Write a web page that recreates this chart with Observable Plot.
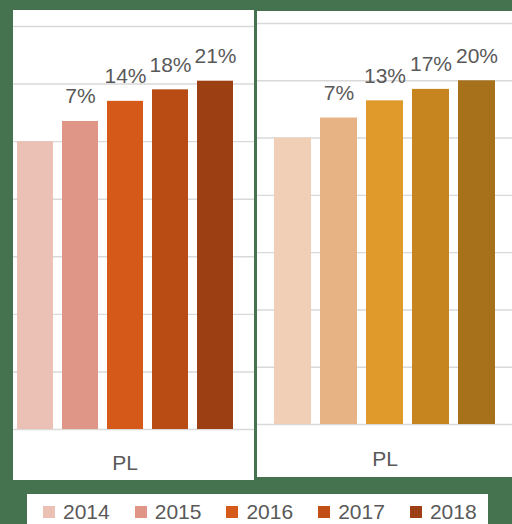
<!DOCTYPE html>
<html>
<head>
<meta charset="utf-8">
<script src="https://cdn.jsdelivr.net/npm/d3@7"></script>
<script src="https://cdn.jsdelivr.net/npm/@observablehq/plot@0.6"></script>
<style>
  html, body { margin: 0; padding: 0; }
  body { width: 512px; height: 524px; overflow: hidden; background: #45724f; position: relative;
         font-family: "Liberation Sans", Arial, sans-serif; }
  .panel { position: absolute; background: #fff; overflow: hidden; }
  .panel svg { position: absolute; top: 0; max-width: none !important; }
  #legend { position: absolute; left: 27px; top: 494px; width: 461px; height: 40px; background: #fff; }
  #legend .items { position: absolute; left: 16px; top: 12px; display: flex; gap: 25px; }
  #legend .item { display: flex; align-items: center; height: 12px; }
  #legend .sw { width: 12px; height: 12px; margin-right: 8px; }
  #legend .lbl { font-size: 21px; line-height: 12px; color: #595959; }
</style>
</head>
<body>
<div id="left" class="panel" style="left:13px; top:10px; width:241px; height:470px;"></div>
<div id="right" class="panel" style="left:257px; top:11px; width:255px; height:466px;"></div>
<div id="legend"><div class="items"></div></div>
<script>
// ---- data ----
const categories = ["PL"];
const years = ["2014", "2015", "2016", "2017", "2018"];
const leftValues = [100, 107, 114, 118, 121];
const rightValues = [100, 107, 113, 117, 120];
const leftLabels = ["", "7%", "14%", "18%", "21%"];
const rightLabels = ["", "7%", "13%", "17%", "20%"];
const leftColors = ["#ebc0b5", "#df9686", "#d55a19", "#b94c14", "#9c3f12"];
const rightColors = ["#f0cfb6", "#e8b384", "#e09a2b", "#c6851f", "#a7711c"];
const legendColors = ["#ebc0b5", "#df9686", "#d55a19", "#c24f16", "#9c3f12"];
const yTicks = [0, 20, 40, 60, 80, 100, 120, 140];

function rows(values, labels) {
  return years.map((y, i) => ({region: categories[0], year: y, value: values[i], label: labels[i]}));
}

function panel(values, labels, colors, opts) {
  const data = rows(values, labels);
  return Plot.plot({
    width: opts.width,
    height: opts.height,
    marginTop: opts.marginTop,
    marginBottom: opts.marginBottom,
    marginLeft: 0,
    marginRight: 0,
    style: {fontSize: "21px", fontFamily: "Liberation Sans, Arial, sans-serif", color: "#595959", background: "transparent", overflow: "visible", maxWidth: "none"},
    fx: {domain: categories, padding: 0, axis: "bottom", tickSize: 0, tickPadding: opts.tickPadding, label: null},
    x: {domain: years, axis: null, paddingInner: 0.2, paddingOuter: opts.paddingOuter},
    y: {domain: [0, 140], axis: null},
    color: {domain: years, range: colors},
    marks: [
      Plot.ruleY(yTicks, {stroke: "#d9d9d9", strokeWidth: 1.4}),
      Plot.barY(data, {fx: "region", x: "year", y: "value", fill: "year"}),
      Plot.text(data.filter(d => d.label), {fx: "region", x: "year", y: "value", text: "label",
        lineAnchor: "bottom", dy: -18, fill: "#595959", fontSize: 21})
    ]
  });
}

const leftSvg = panel(leftValues, leftLabels, leftColors,
  {width: 259, height: 470, marginTop: 16, marginBottom: 51, paddingOuter: 0.43, tickPadding: 26});
leftSvg.style.left = "-18px";
document.getElementById("left").appendChild(leftSvg);

const rightSvg = panel(rightValues, rightLabels, rightColors,
  {width: 255, height: 466, marginTop: 12, marginBottom: 53, paddingOuter: 0.356, tickPadding: 27});
rightSvg.style.left = "0px";
document.getElementById("right").appendChild(rightSvg);

// legend
const items = document.querySelector("#legend .items");
years.forEach((y, i) => {
  const it = document.createElement("div");
  it.className = "item";
  const sw = document.createElement("div");
  sw.className = "sw";
  sw.style.background = legendColors[i];
  const lb = document.createElement("span");
  lb.className = "lbl";
  lb.textContent = y;
  it.appendChild(sw);
  it.appendChild(lb);
  items.appendChild(it);
});
</script>
</body>
</html>
